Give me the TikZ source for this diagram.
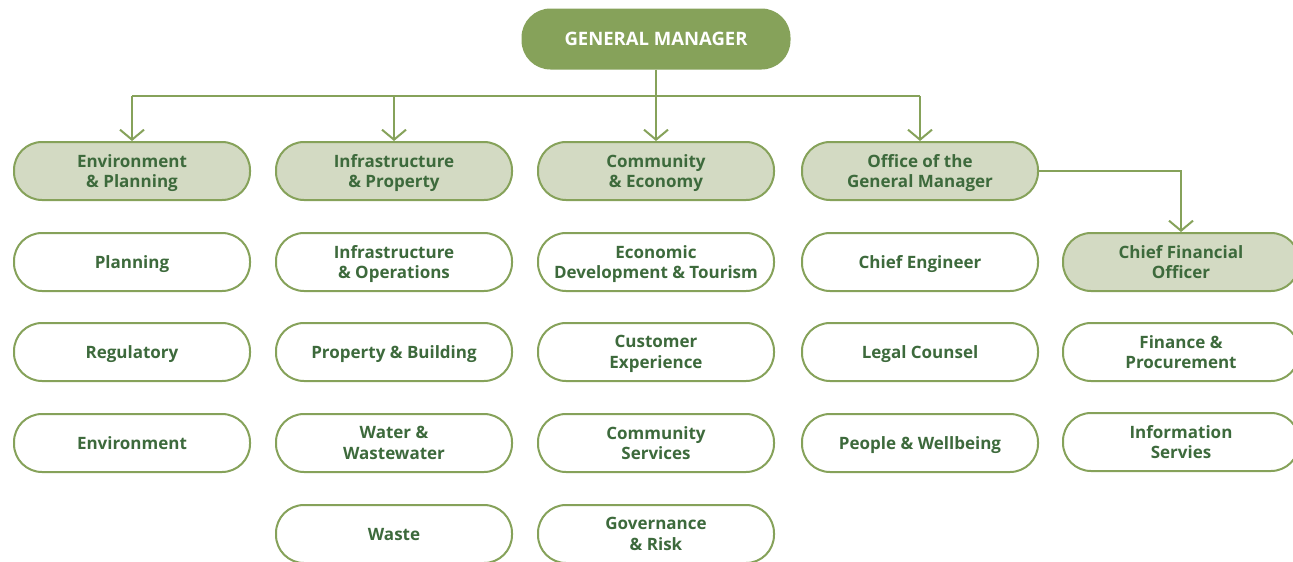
\documentclass[tikz,border=0pt]{standalone}
\usepackage{fontspec}
\setmainfont{Open Sans}
\usetikzlibrary{arrows.meta}
\definecolor{olive}{HTML}{86A25A}
\definecolor{sage}{HTML}{D3DAC3}
\definecolor{leaf}{HTML}{3D6A3C}
\tikzset{
  box/.style={draw=olive, line width=2pt, rounded corners=28pt, minimum width=236pt,
    minimum height=58pt, align=center, text=leaf, text depth=0pt,
    font=\fontsize{17}{20.5}\selectfont\bfseries},
  head/.style={box, fill=sage},
  unit/.style={box, fill=white},
  top/.style={box, fill=olive, text=white, minimum width=267pt, minimum height=59pt,
    font=\fontsize{18.5}{22}\selectfont\bfseries},
  link/.style={olive, line width=2pt},
  down/.style={link, -{Straight Barb[open, length=10pt, width=24pt, line width=2pt]}}
}
\begin{document}
\begin{tikzpicture}[x=1pt,y=-1pt]
\useasboundingbox (0,0) rectangle (1293,562);

\node[top] (gm) at (656,39) {GENERAL MANAGER};

% department heads
\node[head] (env) at (132,171) {Environment\\ \& Planning};
\node[head] (inf) at (394,171) {Infrastructure\\ \& Property};
\node[head] (com) at (656,171) {Community\\ \& Economy};
\node[head] (ogm) at (920,171) {Office of the\\ General Manager};
\node[head] (cfo) at (1181,262) {Chief Financial\\ Officer};

% units
\node[unit] (plan) at (132,262) {Planning};
\node[unit] (reg) at (132,352) {Regulatory};
\node[unit] (envu) at (132,443) {Environment};

\node[unit] (infops) at (394,262) {Infrastructure\\ \& Operations};
\node[unit] (prop) at (394,352) {Property \& Building};
\node[unit] (water) at (394,443) {Water \&\\ Wastewater};
\node[unit] (waste) at (394,534) {Waste};

\node[unit] (econ) at (656,262) {Economic\\ Development \& Tourism};
\node[unit] (cust) at (656,352) {Customer\\ Experience};
\node[unit] (comserv) at (656,443) {Community\\ Services};
\node[unit] (gov) at (656,534) {Governance\\ \& Risk};

\node[unit] (eng) at (920,262) {Chief Engineer};
\node[unit] (legal) at (920,352) {Legal Counsel};
\node[unit] (people) at (920,443) {People \& Wellbeing};

\node[unit] (fin) at (1181,352) {Finance \&\\ Procurement};
\node[unit] (info) at (1181,442) {Information\\ Servies};

% connectors
\coordinate (bus) at (656,96);
\draw[link] (env.north |- bus) -- (ogm.north |- bus);
\draw[down] (gm.south) -- (com.north);
\foreach \d in {env,inf,ogm}
\draw[down] (\d.north |- bus) -- (\d.north);
\draw[down] (ogm.east) -| (cfo.north);
\end{tikzpicture}
\end{document}
